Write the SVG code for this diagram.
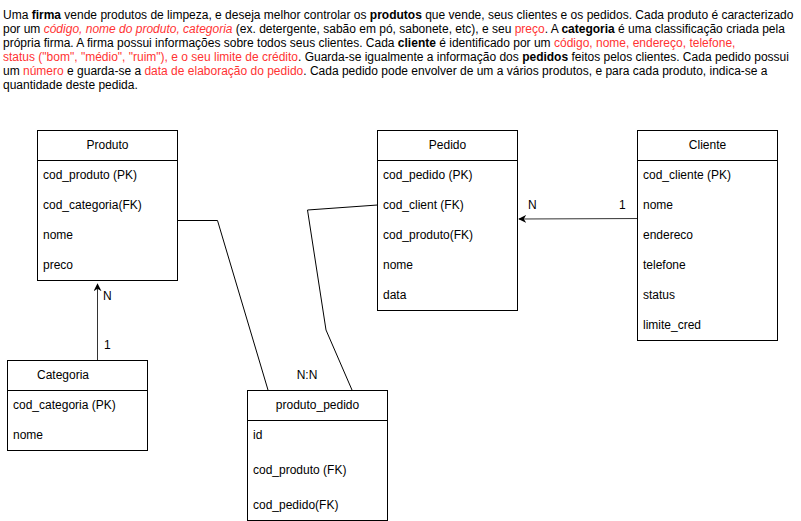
<svg xmlns="http://www.w3.org/2000/svg" width="801" height="521" viewBox="0 0 801 521">
<style>
text{font-family:"Liberation Sans",Arial,sans-serif;font-size:12px;fill:#000}
.c{text-anchor:middle}
.b{font-weight:bold}
.r{fill:#FF3333}
.i{font-style:italic}
.box{fill:#fff;stroke:#000;stroke-width:1}
.ln{fill:none;stroke:#000;stroke-width:1}
.ar{fill:none;stroke:#333;stroke-width:1}
</style>
<defs>
<marker id="arr" viewBox="0 0 10 10" refX="9" refY="5" markerWidth="8" markerHeight="8" orient="auto" markerUnits="userSpaceOnUse">
<path d="M0,0 L10,5 L0,10 L3,5 Z" fill="#000"/>
</marker>
</defs>
<rect width="801" height="521" fill="#fff"/>
<g id="description">
<text x="3" y="19">Uma <tspan class="b">firma</tspan> vende produtos de limpeza, e deseja melhor controlar os <tspan class="b">produtos</tspan> que vende, seus clientes e os pedidos. Cada produto é caracterizado</text>
<text x="3" y="33">por um <tspan class="r i">código, nome do produto, categoria</tspan> (ex. detergente, sabão em pó, sabonete, etc), e seu <tspan class="r">preço</tspan>. A <tspan class="b">categoria</tspan> é uma classificação criada pela</text>
<text x="3" y="47">própria firma. A firma possui informações sobre todos seus clientes. Cada <tspan class="b">cliente</tspan> é identificado por um <tspan class="r">código, nome, endereço, telefone,</tspan></text>
<text x="3" y="61"><tspan class="r">status ("bom", "médio", "ruim"), e o seu limite de crédito</tspan>. Guarda-se igualmente a informação dos <tspan class="b">pedidos</tspan> feitos pelos clientes. Cada pedido possui</text>
<text x="3" y="75">um <tspan class="r">número</tspan> e guarda-se a <tspan class="r">data de elaboração do pedido</tspan>. Cada pedido pode envolver de um a vários produtos, e para cada produto, indica-se a</text>
<text x="3" y="89">quantidade deste pedida.</text>
</g>
<g id="connectors">
<polyline class="ln" points="177.5,220.5 217.5,220.5 268,390"/>
<polyline class="ln" points="377.5,205 307.5,210 326,330 352,390"/>
<line class="ar" x1="97.5" y1="360" x2="97.5" y2="284" marker-end="url(#arr)"/>
<line class="ar" x1="643" y1="218.5" x2="519" y2="219" marker-end="url(#arr)"/>
<text x="103" y="300">N</text>
<text x="104" y="349">1</text>
<text x="528" y="209">N</text>
<text x="619" y="209">1</text>
<text x="307" y="379" class="c">N:N</text>
</g>
<g id="produto">
<rect class="box" x="37.5" y="130.5" width="140" height="150"/>
<line class="ln" x1="37.5" y1="160.5" x2="177.5" y2="160.5"/>
<text x="107.5" y="149" class="c">Produto</text>
<text x="43" y="179">cod_produto (PK)</text>
<text x="43" y="209">cod_categoria(FK)</text>
<text x="43" y="239">nome</text>
<text x="43" y="269">preco</text>
</g>
<g id="pedido">
<rect class="box" x="377.5" y="130.5" width="140" height="180"/>
<line class="ln" x1="377.5" y1="160.5" x2="517.5" y2="160.5"/>
<text x="447.5" y="149" class="c">Pedido</text>
<text x="383" y="179">cod_pedido (PK)</text>
<text x="383" y="209">cod_client (FK)</text>
<text x="383" y="239">cod_produto(FK)</text>
<text x="383" y="269">nome</text>
<text x="383" y="299">data</text>
</g>
<g id="cliente">
<rect class="box" x="637.5" y="130.5" width="140" height="210"/>
<line class="ln" x1="637.5" y1="160.5" x2="777.5" y2="160.5"/>
<text x="707.5" y="149" class="c">Cliente</text>
<text x="643" y="179">cod_cliente (PK)</text>
<text x="643" y="209">nome</text>
<text x="643" y="239">endereco</text>
<text x="643" y="269">telefone</text>
<text x="643" y="299">status</text>
<text x="643" y="329">limite_cred</text>
</g>
<g id="categoria">
<rect class="box" x="7.5" y="360.5" width="140" height="90"/>
<line class="ln" x1="7.5" y1="390.5" x2="147.5" y2="390.5"/>
<text x="63" y="379" class="c">Categoria</text>
<text x="13" y="409">cod_categoria (PK)</text>
<text x="13" y="439">nome</text>
</g>
<g id="produto_pedido">
<rect class="box" x="247.5" y="390.5" width="140" height="130"/>
<line class="ln" x1="247.5" y1="420.5" x2="387.5" y2="420.5"/>
<text x="317.5" y="409" class="c">produto_pedido</text>
<text x="253" y="439">id</text>
<text x="253" y="474">cod_produto (FK)</text>
<text x="253" y="509">cod_pedido(FK)</text>
</g>
</svg>
